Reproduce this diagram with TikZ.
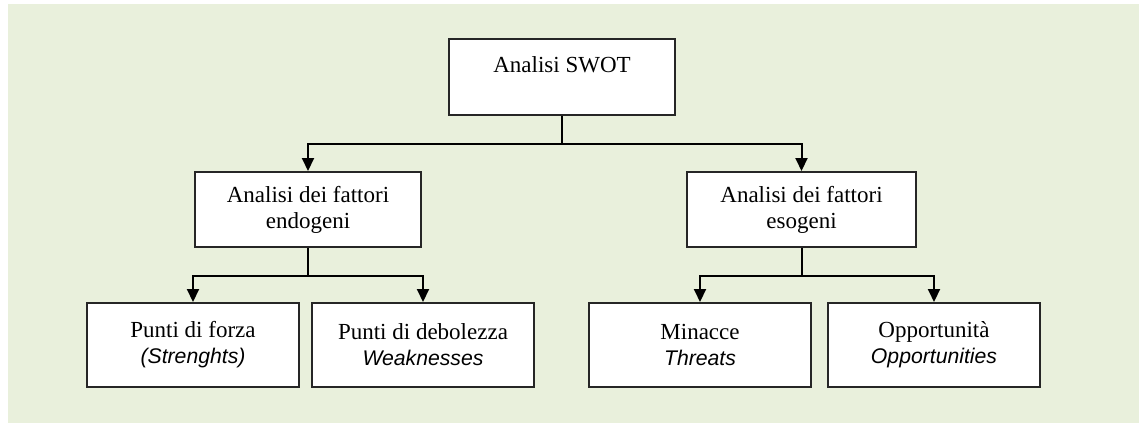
\documentclass[tikz,border=0pt]{standalone}
\usepackage{fontspec}
\setmainfont{Liberation Serif}
\newfontfamily\engfont{Liberation Sans}
\usepackage{tikz}
\usepackage{xcolor}
\usetikzlibrary{arrows.meta,positioning}
\definecolor{swotbg}{RGB}{233,240,220}
\newcommand{\eng}[1]{{\engfont\itshape\fontsize{10.6}{13}\selectfont #1}}

\begin{document}
\begin{tikzpicture}[x=0.5pt,y=-0.5pt,
    factor/.style={draw=black!85,fill=white,line width=1pt,align=center,
        inner sep=0pt,font=\fontsize{11.5}{13}\selectfont},
    >={Triangle[width=6pt,length=6.5pt]}]
    \useasboundingbox (0,0) rectangle (1139,423);
    \fill[white] (0,0) rectangle (1139,423);
    \fill[swotbg] (8,4) rectangle (1139,423);
    \node[factor,minimum width=113pt,minimum height=38pt,text depth=12pt] (swot) at (562,77) {Analisi SWOT};
    \node[factor,minimum width=113pt,minimum height=37.5pt] (endo) at (308,209.5) {Analisi dei fattori\\endogeni};
    \node[factor,minimum width=114.5pt,minimum height=37.5pt] (eso) at (801.5,209.5) {Analisi dei fattori\\esogeni};
    \node[factor,minimum width=106pt,minimum height=42pt] (forza) at (193,345) {Punti di forza\\\eng{(Strenghts)}};
    \node[factor,minimum width=111pt,minimum height=42pt] (debolezza) at (423,345) {Punti di debolezza\\\eng{Weaknesses}};
    \node[factor,minimum width=111pt,minimum height=42pt] (minacce) at (700,345) {Minacce\\\eng{Threats}};
    \node[factor,minimum width=106pt,minimum height=42pt] (opport) at (934,345) {Opportunità\\\eng{Opportunities}};
    \draw[->,line width=1pt] (swot.south) -- ++(0,28) -| (endo);
    \draw[->,line width=1pt] (swot.south) -- ++(0,28) -| (eso);
    \draw[->,line width=1pt] (endo.south) -- ++(0,28) -| (forza);
    \draw[->,line width=1pt] (endo.south) -- ++(0,28) -| (debolezza);
    \draw[->,line width=1pt] (eso.south) -- ++(0,28) -| (minacce);
    \draw[->,line width=1pt] (eso.south) -- ++(0,28) -| (opport);
\end{tikzpicture}
\end{document}
